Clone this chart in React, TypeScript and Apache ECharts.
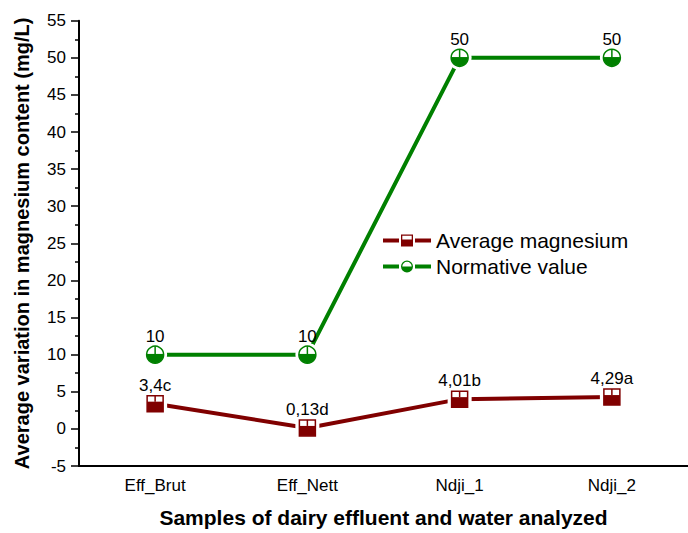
import React, { useEffect, useRef } from "react";
import * as echarts from "echarts";

const categories = ["Eff_Brut", "Eff_Nett", "Ndji_1", "Ndji_2"];
const magnesiumValues = [3.4, 0.13, 4.01, 4.29];
const magnesiumLabels = ["3,4c", "0,13d", "4,01b", "4,29a"];
const normativeValues = [10, 10, 50, 50];
const normativeLabels = ["10", "10", "50", "50"];
const yTicks = { min: -5, max: 55, interval: 5 };

const RED = "#800000";
const GREEN = "#008000";
const FONT = '"Liberation Sans", Arial, Helvetica, sans-serif';

const circleIcon =
  "path://M0,4 H16 V8 H0 Z M32,4 H48 V8 H32 Z " +
  "M18,6 A6,6 0 0 0 30,6 Z " +
  "M18,6 A6,6 0 0 1 30,6 L28.7,6 A4.7,4.7 0 0 0 19.3,6 Z";
const squareIcon =
  "path://M0,4 H16 V8 H0 Z M32,4 H48 V8 H32 Z " +
  "M18,0 H30 V1.3 H18 Z M18,0 H19.3 V6 H18 Z M28.7,0 H30 V6 H28.7 Z " +
  "M18,5 H30 V12 H18 Z";

function textEl(text: string, x: number, y: number) {
  return {
    type: "text",
    style: {
      text,
      x,
      y,
      fill: "#000",
      font: `17px ${FONT}`,
      align: "center",
      verticalAlign: "bottom",
      textAlign: "center",
      textVerticalAlign: "bottom",
    },
  };
}

export default function App() {
  const ref = useRef<HTMLDivElement>(null);
  useEffect(() => {
    if (!ref.current) return;
    const chart = echarts.init(ref.current, undefined, { renderer: "svg" });

    const circleMarker = (params: any, api: any) => {
      const p = api.coord([api.value(0), api.value(1)]);
      const cx = p[0];
      const cy = p[1];
      const r = 8.5;
      return {
        type: "group",
        children: [
          { type: "circle", shape: { cx, cy, r: r + 3.5 }, style: { fill: "#fff" } },
          { type: "circle", shape: { cx, cy, r }, style: { fill: "#fff", stroke: GREEN, lineWidth: 1.5 } },
          {
            type: "sector",
            shape: { cx, cy, r0: 0, r, startAngle: 0, endAngle: Math.PI, clockwise: true },
            style: { fill: GREEN },
          },
          { type: "line", shape: { x1: cx, y1: cy, x2: cx, y2: cy - r }, style: { stroke: GREEN, lineWidth: 1.5 } },
          { type: "line", shape: { x1: cx - r, y1: cy, x2: cx + r, y2: cy }, style: { stroke: GREEN, lineWidth: 1.5 } },
          textEl(normativeLabels[params.dataIndex], cx, cy - r - 1),
        ],
      };
    };

    const squareMarker = (params: any, api: any) => {
      const p = api.coord([api.value(0), api.value(1)]);
      const cx = p[0];
      const cy = p[1];
      const h = 8;
      return {
        type: "group",
        children: [
          { type: "rect", shape: { x: cx - h - 4, y: cy - h - 4, width: 2 * h + 8, height: 2 * h + 8 }, style: { fill: "#fff" } },
          { type: "rect", shape: { x: cx - h, y: cy - h, width: 2 * h, height: 2 * h }, style: { fill: "#fff", stroke: RED, lineWidth: 1.5 } },
          { type: "rect", shape: { x: cx - h, y: cy - 2, width: 2 * h, height: h + 2 }, style: { fill: RED } },
          { type: "line", shape: { x1: cx, y1: cy - h, x2: cx, y2: cy - 2 }, style: { stroke: RED, lineWidth: 1.5 } },
          textEl(magnesiumLabels[params.dataIndex], cx, cy - h - 2),
        ],
      };
    };

    chart.setOption({
      animation: false,
      backgroundColor: "#fff",
      textStyle: { fontFamily: FONT },
      grid: { left: 79, right: -7, top: 20.7, bottom: 63, containLabel: false },
      legend: {
        orient: "vertical",
        left: 378,
        top: 225,
        itemWidth: 48,
        itemHeight: 12,
        itemGap: 5,
        textStyle: { fontSize: 21, color: "#000", fontFamily: FONT },
        itemStyle: { borderWidth: 0 },
        data: [
          { name: "Average magnesium", icon: squareIcon },
          { name: "Normative value", icon: circleIcon },
        ],
      },
      xAxis: [
        {
          type: "category",
          data: categories,
          position: "bottom",
          boundaryGap: true,
          name: "Samples of dairy effluent and water analyzed",
          nameLocation: "middle",
          nameGap: 41,
          nameTextStyle: { fontSize: 21, fontWeight: "bold", color: "#000", fontFamily: FONT },
          axisLine: { onZero: false, lineStyle: { color: "#000", width: 2 } },
          axisTick: { alignWithLabel: true, length: 6, lineStyle: { color: "#000", width: 1.5 } },
          axisLabel: { fontSize: 17, color: "#000", margin: 11, fontFamily: FONT },
          splitLine: { show: false },
        },
        {
          type: "category",
          data: categories,
          position: "bottom",
          boundaryGap: true,
          axisLine: { show: false, onZero: false },
          axisTick: { alignWithLabel: false, length: 3, lineStyle: { color: "#000", width: 1.5 } },
          axisLabel: { show: false },
          splitLine: { show: false },
        },
      ],
      yAxis: {
        type: "value",
        min: yTicks.min,
        max: yTicks.max,
        interval: yTicks.interval,
        name: "Average variation in magnesium content (mg/L)",
        nameLocation: "middle",
        nameGap: 47,
        nameTextStyle: { fontSize: 20, fontWeight: "bold", color: "#000", fontFamily: FONT },
        axisLine: { show: true, lineStyle: { color: "#000", width: 2 } },
        axisTick: { show: true, length: 8, lineStyle: { color: "#000", width: 1.5 } },
        minorTick: { show: true, splitNumber: 2, length: 4, lineStyle: { color: "#000", width: 1.5 } },
        axisLabel: { fontSize: 17, color: "#000", margin: 13, fontFamily: FONT },
        splitLine: { show: false },
      },
      series: [
        {
          name: "Average magnesium",
          type: "line",
          data: magnesiumValues,
          symbol: "none",
          color: RED,
          lineStyle: { color: RED, width: 4 },
          itemStyle: { color: RED },
          z: 2,
        },
        {
          name: "Normative value",
          type: "line",
          data: normativeValues,
          symbol: "none",
          color: GREEN,
          lineStyle: { color: GREEN, width: 4 },
          itemStyle: { color: GREEN },
          z: 2,
        },
        {
          name: "mgMarkers",
          type: "custom",
          data: magnesiumValues.map((v, i) => [i, v]),
          encode: { x: 0, y: 1 },
          renderItem: squareMarker,
          z: 4,
        },
        {
          name: "normMarkers",
          type: "custom",
          data: normativeValues.map((v, i) => [i, v]),
          encode: { x: 0, y: 1 },
          renderItem: circleMarker,
          z: 4,
        },
      ],
    });
    return () => chart.dispose();
  }, []);

  return <div ref={ref} style={{ width: 688, height: 533, position: "absolute", left: 0, top: 0 }} />;
}
